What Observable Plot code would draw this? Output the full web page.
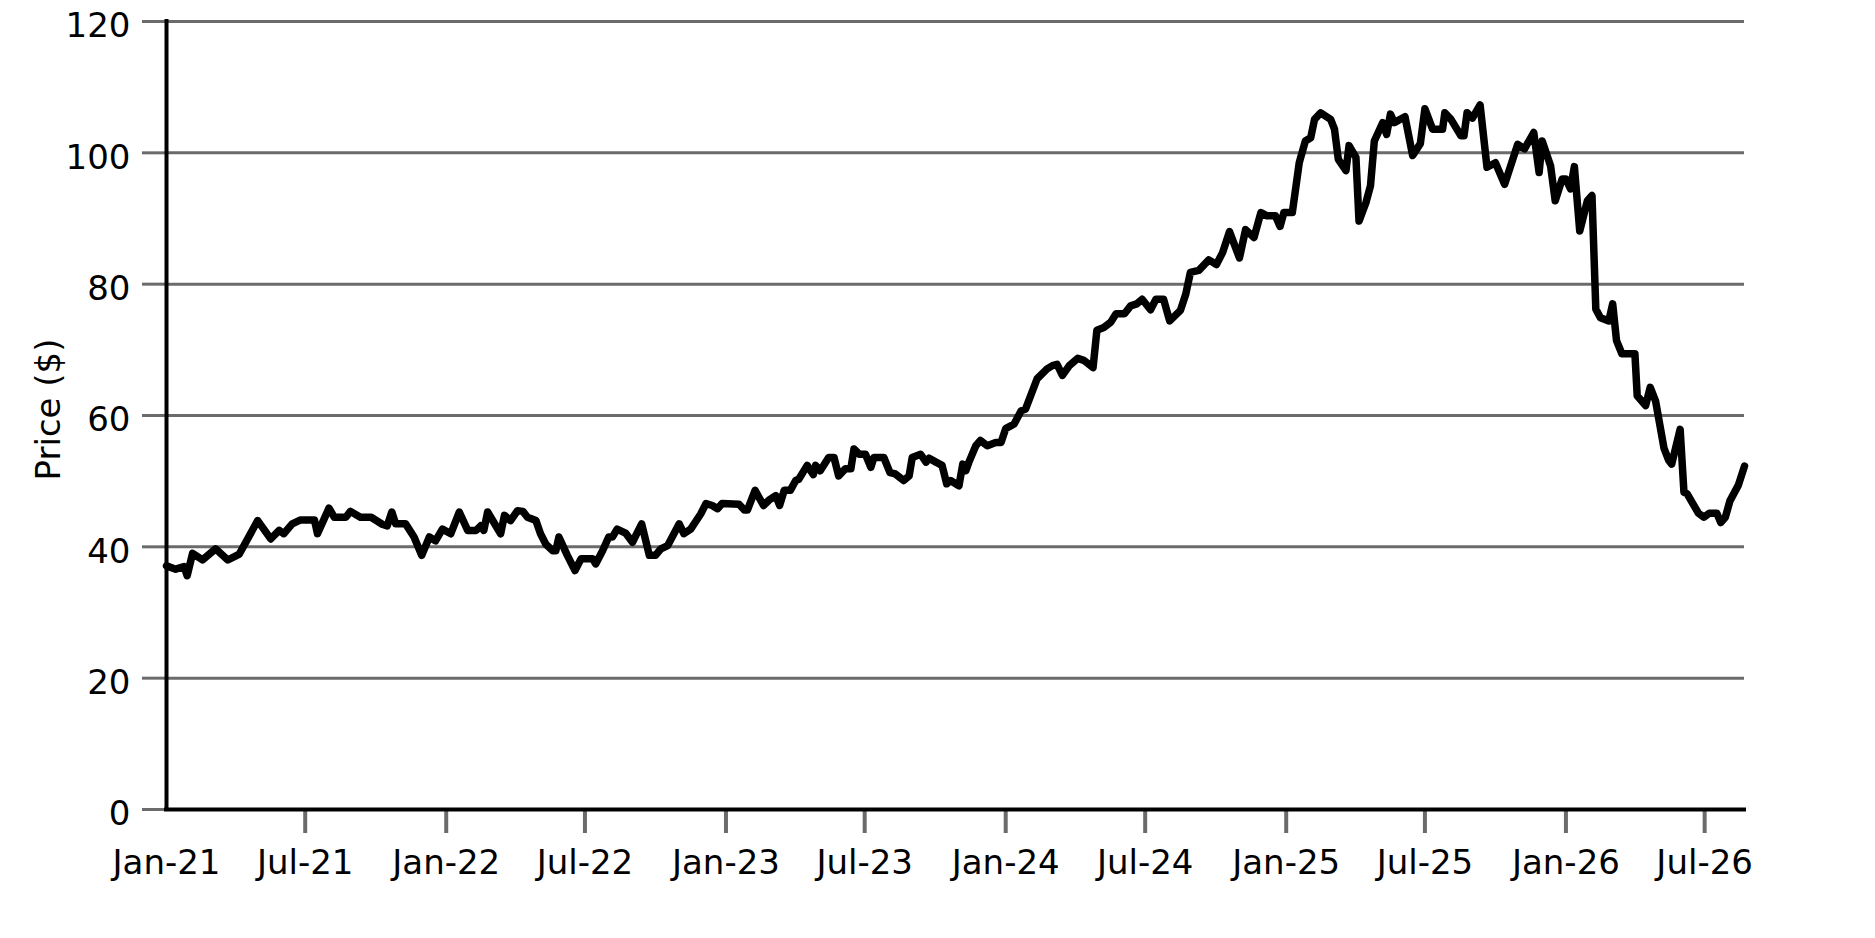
<!DOCTYPE html>
<html>
<head>
<meta charset="utf-8">
<script src="https://cdn.jsdelivr.net/npm/d3@7"></script>
<script src="https://cdn.jsdelivr.net/npm/@observablehq/plot@0.6"></script>
<style>
  html, body { margin: 0; padding: 0; background: #fff; overflow: hidden; }
</style>
</head>
<body>
<div id="chart"></div>
<script>
// ---- Data ----
const dates = [
"2021-01-01","2021-01-13","2021-01-24","2021-01-28","2021-02-04","2021-02-17","2021-03-06","2021-03-22","2021-04-06","2021-04-30",
"2021-05-17","2021-05-28","2021-06-03","2021-06-14","2021-06-25","2021-07-13","2021-07-17","2021-08-01","2021-08-08","2021-08-23",
"2021-08-29","2021-09-11","2021-09-25","2021-10-10","2021-10-16","2021-10-22","2021-10-27","2021-11-09","2021-11-20","2021-11-30",
"2021-12-10","2021-12-18","2021-12-27","2022-01-07","2022-01-18","2022-01-29","2022-02-09","2022-02-15","2022-02-19","2022-02-24",
"2022-03-13","2022-03-18","2022-03-26","2022-04-04","2022-04-11","2022-04-17","2022-04-28","2022-05-04","2022-05-11","2022-05-20",
"2022-05-24","2022-05-28","2022-06-08","2022-06-18","2022-06-26","2022-07-11","2022-07-15","2022-07-24","2022-08-01","2022-08-06",
"2022-08-12","2022-08-23","2022-09-01","2022-09-13","2022-09-23","2022-10-01","2022-10-08","2022-10-17","2022-11-01","2022-11-07",
"2022-11-16","2022-11-29","2022-12-06","2022-12-14","2022-12-21","2022-12-27","2023-01-18","2023-01-25","2023-01-29","2023-02-08",
"2023-02-19","2023-02-26","2023-03-07","2023-03-12","2023-03-18","2023-03-26","2023-04-02","2023-04-06","2023-04-17","2023-04-25",
"2023-04-28","2023-05-04","2023-05-15","2023-05-22","2023-05-28","2023-06-06","2023-06-13","2023-06-17","2023-06-24","2023-07-02",
"2023-07-09","2023-07-13","2023-07-26","2023-08-03","2023-08-10","2023-08-21","2023-08-28","2023-09-01","2023-09-12","2023-09-19",
"2023-09-23","2023-10-02","2023-10-10","2023-10-16","2023-10-21","2023-11-01","2023-11-06","2023-11-10","2023-11-14","2023-11-23",
"2023-11-29","2023-12-08","2023-12-19","2023-12-26","2024-01-01","2024-01-12","2024-01-21","2024-01-27","2024-02-11","2024-02-24",
"2024-03-02","2024-03-08","2024-03-15","2024-03-24","2024-04-04","2024-04-12","2024-04-24","2024-04-29","2024-05-08","2024-05-17",
"2024-05-24","2024-06-04","2024-06-12","2024-06-20","2024-06-27","2024-07-08","2024-07-15","2024-07-25","2024-08-02","2024-08-16",
"2024-08-23","2024-08-29","2024-09-09","2024-09-22","2024-10-02","2024-10-10","2024-10-19","2024-11-01","2024-11-09","2024-11-20",
"2024-11-29","2024-12-07","2024-12-18","2024-12-24","2024-12-29","2025-01-09","2025-01-18","2025-01-26","2025-02-02","2025-02-07",
"2025-02-15","2025-02-28","2025-03-05","2025-03-10","2025-03-20","2025-03-24","2025-04-02","2025-04-06","2025-04-15","2025-04-21",
"2025-04-26","2025-05-07","2025-05-12","2025-05-17","2025-05-22","2025-06-05","2025-06-15","2025-06-25","2025-07-01","2025-07-11",
"2025-07-24","2025-07-27","2025-08-04","2025-08-17","2025-08-21","2025-08-25","2025-09-01","2025-09-11","2025-09-20","2025-10-01",
"2025-10-13","2025-10-30","2025-11-08","2025-11-20","2025-11-27","2025-12-01","2025-12-12","2025-12-18","2025-12-27","2026-01-01",
"2026-01-07","2026-01-12","2026-01-19","2026-01-29","2026-02-04","2026-02-09","2026-02-15","2026-02-26","2026-03-03","2026-03-08",
"2026-03-15","2026-04-01","2026-04-04","2026-04-15","2026-04-21","2026-04-28","2026-05-09","2026-05-15","2026-05-19","2026-05-30",
"2026-06-04","2026-06-08","2026-06-23","2026-06-30","2026-07-07","2026-07-17","2026-07-22","2026-07-28","2026-08-03","2026-08-14",
"2026-08-22"
];

const prices = [
37.1,36.6,37.0,35.6,39.0,38.0,39.7,38.0,38.9,44.0,
41.2,42.5,42.0,43.5,44.1,44.1,42.0,45.9,44.5,44.5,
45.4,44.5,44.5,43.4,43.2,45.3,43.5,43.5,41.5,38.7,
41.5,40.9,42.7,42.0,45.3,42.5,42.5,43.2,42.5,45.3,
42.0,44.8,44.0,45.5,45.4,44.5,44.0,42.0,40.4,39.4,
39.4,41.5,38.7,36.4,38.2,38.2,37.4,39.4,41.5,41.5,
42.7,42.1,40.7,43.5,38.7,38.7,39.7,40.2,43.5,42.0,
42.7,45.0,46.6,46.3,45.8,46.6,46.5,45.6,45.6,48.6,
46.3,47.1,47.8,46.3,48.6,48.6,50.1,50.3,52.4,51.0,
52.4,51.6,53.6,53.6,50.8,51.9,51.9,54.9,54.1,54.1,
52.1,53.6,53.6,51.3,51.1,50.1,50.8,53.6,54.1,52.9,
53.5,52.9,52.4,49.6,50.1,49.3,52.6,51.6,52.9,55.4,
56.2,55.4,55.9,55.9,58.0,58.7,60.7,61.0,65.6,67.1,
67.6,67.8,66.1,67.6,68.7,68.4,67.3,73.0,73.4,74.2,
75.5,75.5,76.7,77.0,77.7,76.1,77.7,77.7,74.4,76.0,
78.5,81.8,82.1,83.7,83.0,84.8,88.0,84.0,88.3,87.1,
90.9,90.4,90.4,88.8,90.9,90.9,98.5,101.8,102.3,105.1,
106.1,105.1,103.6,99.0,97.3,101.1,99.3,89.6,92.4,95.0,
101.8,104.6,102.8,105.9,104.6,105.5,99.6,101.4,106.7,103.6,
103.6,106.1,105.1,102.6,102.6,106.1,105.3,107.3,97.8,98.5,
95.2,101.3,100.6,103.1,97.0,101.8,98.0,92.7,96.0,96.0,
94.5,97.9,88.1,92.7,93.5,76.2,74.9,74.4,77.0,71.4,
69.4,69.4,63.0,61.5,64.3,62.2,55.0,53.2,52.6,57.9,
48.3,48.1,45.1,44.5,45.1,45.1,43.7,44.5,47.0,49.4,
52.3
];

const yTicks = [0, 20, 40, 60, 80, 100, 120];
const xTickDates = [
"2021-01-01","2021-07-01","2022-01-01","2022-07-01","2023-01-01","2023-07-01",
"2024-01-01","2024-07-01","2025-01-01","2025-07-01","2026-01-01","2026-07-01"
];
const yLabel = "Price ($)";

// ---- Build ----
const parse = d3.utcParse("%Y-%m-%d");
const table = dates.map((d, i) => ({date: parse(d), price: prices[i]}));
const xTicks = xTickDates.map(parse);
const xDomain = [table[0].date, table[table.length - 1].date];
const gray = "#6b6b6b";
const fs = 34;

const chart = Plot.plot({
  width: 1875,
  height: 938,
  marginLeft: 166,
  marginRight: 131,
  marginTop: 21,
  marginBottom: 129,
  style: {fontFamily: "'DejaVu Sans', sans-serif", fontSize: fs + "px", background: "white", color: "black"},
  x: {type: "utc", domain: xDomain},
  y: {domain: [0, 120]},
  marks: [
    Plot.gridY(yTicks, {stroke: gray, strokeOpacity: 1, strokeWidth: 3}),
    Plot.axisY(yTicks, {tickSize: 24, text: null, stroke: gray, strokeOpacity: 1, strokeWidth: 3, label: null}),
    Plot.axisY(yTicks, {tickSize: 0, tickPadding: 36, dy: 5, fontSize: fs, fill: "black", label: null}),
    Plot.axisX(xTicks.slice(1), {tickSize: 24, text: null, stroke: gray, strokeOpacity: 1, strokeWidth: 4, label: null}),
    Plot.axisX(xTicks, {tickSize: 0, tickPadding: 40, tickFormat: d3.utcFormat("%b-%y"), fontSize: fs, fill: "black", label: null}),
    Plot.line(table, {x: "date", y: "price", stroke: "black", strokeWidth: 7.5}),
    Plot.ruleX([xDomain[0]], {y1: 0, y2: 120, stroke: "black", strokeWidth: 4, strokeLinecap: "square"}),
    Plot.ruleY([0], {stroke: "black", strokeWidth: 4, strokeLinecap: "square"}),
    Plot.text([yLabel], {frameAnchor: "left", dx: -117, dy: -6, rotate: -90, fontSize: fs, fill: "black", lineAnchor: "middle", textAnchor: "middle"})
  ]
});

document.getElementById("chart").appendChild(chart);
</script>
</body>
</html>
